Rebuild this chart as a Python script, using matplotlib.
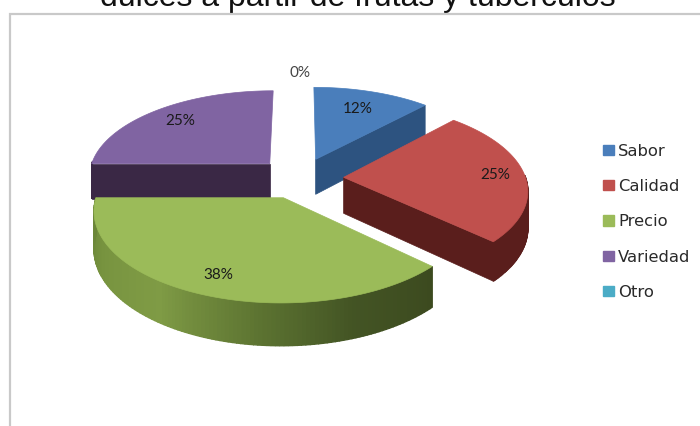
import numpy as np
import matplotlib
matplotlib.use("Agg")
import matplotlib.pyplot as plt
from matplotlib.patches import Polygon, Patch, Rectangle
from matplotlib.colors import to_rgb

# Survey shares, percent
categories = ["Sabor", "Calidad", "Precio", "Variedad", "Otro"]
shares = [12, 25, 38, 25, 0]
title_text = "dulces a partir de frutas y tubérculos"

top_colors = ["#4a7ebb", "#c0504d", "#9bbb59", "#8064a2", "#4bacc6"]
wall_colors = ["#2d5380", "#5a1e1c", "#4d6028", "#3a2845", "#2a6a7a"]

W, H = 700, 426
fig = plt.figure(figsize=(W / 100, H / 100), dpi=100)
ax = fig.add_axes([0, 0, 1, 1])
ax.set_xlim(0, W)
ax.set_ylim(H, 0)
ax.axis("off")

# Chart frame, running off the right and bottom edges
ax.add_patch(Rectangle((9.5, 13.5), 720, 450, fc="white", ec="#c9c9c9", lw=1.6, zorder=1))
ax.text(358, 6, title_text, ha="center", va="baseline", fontsize=23,
        family="Liberation Sans", color="#111111", zorder=0.5)

# Perspective projection of the tilted pie
X0, Y0, FOCAL, TILT, PERSP, THICK, EXPLODE = 300, 178, 182, 0.472, 0.13, 36, 0.24


def project(u, v, drop=0.0):
    g = 1 / (1 + PERSP * v)
    return X0 + FOCAL * u * g, Y0 - FOCAL * TILT * v * g + drop * g


def rim(theta, off):
    return off[0] + np.sin(theta), off[1] + np.cos(theta)


def green_rim_color(deg):
    stops_deg = [133, 160, 185, 215, 245, 270]
    stops = [to_rgb(c) for c in ("#3c4a1f", "#435424", "#5c7331", "#7f9b45", "#77933f", "#6a8538")]
    return tuple(np.interp(deg, stops_deg, [s[i] for s in stops]) for i in range(3))


edges = np.concatenate([[0], np.cumsum(shares)]) * 3.6
paint_order = [0, 3, 1, 2]
label_frac = [0.72, 0.84, 0.82, 0.78]

for idx in paint_order:
    a0, a1 = np.radians(edges[idx]), np.radians(edges[idx + 1])
    mid = (a0 + a1) / 2
    off = (EXPLODE * np.sin(mid), EXPLODE * np.cos(mid))
    z = 2 + paint_order.index(idx)
    thetas = np.linspace(a0, a1, 120)

    # Radial walls that face the viewer
    for a, front in ((a0, np.sin(a0) < -1e-6), (a1, np.sin(a1) > 1e-6)):
        if front:
            r = rim(a, off)
            q = [project(*off), project(*r), project(*r, THICK), project(*off, THICK)]
            ax.add_patch(Polygon(q, closed=True, fc=wall_colors[idx], ec=wall_colors[idx], lw=0.5, zorder=z))

    # Outer rim, built from narrow shaded strips; the back half stays hidden
    for t0, t1 in zip(thetas[:-1], thetas[1:]):
        if np.cos((t0 + t1) / 2) > 0.02:
            continue
        r0, r1 = rim(t0, off), rim(t1, off)
        col = green_rim_color(np.degrees(t0)) if idx == 2 else wall_colors[idx]
        ax.add_patch(Polygon([project(*r0), project(*r1), project(*r1, THICK), project(*r0, THICK)],
                             closed=True, fc=col, ec=col, lw=1.0, zorder=z))

    # Top face
    pts = [project(*off)] + [project(*rim(t, off)) for t in thetas]
    ax.add_patch(Polygon(pts, closed=True, fc=top_colors[idx], ec=top_colors[idx], lw=0.5, zorder=z + 0.5))

    lx, ly = project(off[0] + label_frac[idx] * np.sin(mid), off[1] + label_frac[idx] * np.cos(mid))
    ax.text(lx, ly, f"{shares[idx]}%", ha="center", va="center", fontsize=11,
            family="Lato", color="#1a1a1a", zorder=10)

# Empty slice: its label sits just past the rim at twelve o'clock
zx, zy = project(0, 1.46)
ax.text(zx, zy, f"{shares[4]}%", ha="center", va="center", fontsize=11,
        family="Lato", color="#444444", zorder=10)

handles = [Patch(fc=c, ec=c) for c in top_colors]
ax.legend(handles, categories, loc="upper left", bbox_to_anchor=(0.861, 0.663), frameon=False,
          prop={"family": "DejaVu Sans", "size": 11.8}, handlelength=0.66, handleheight=0.58,
          handletextpad=0.28, labelspacing=1.24, borderpad=0, borderaxespad=0, labelcolor="#2a2a2a")

fig.savefig("out.png", dpi=100)
